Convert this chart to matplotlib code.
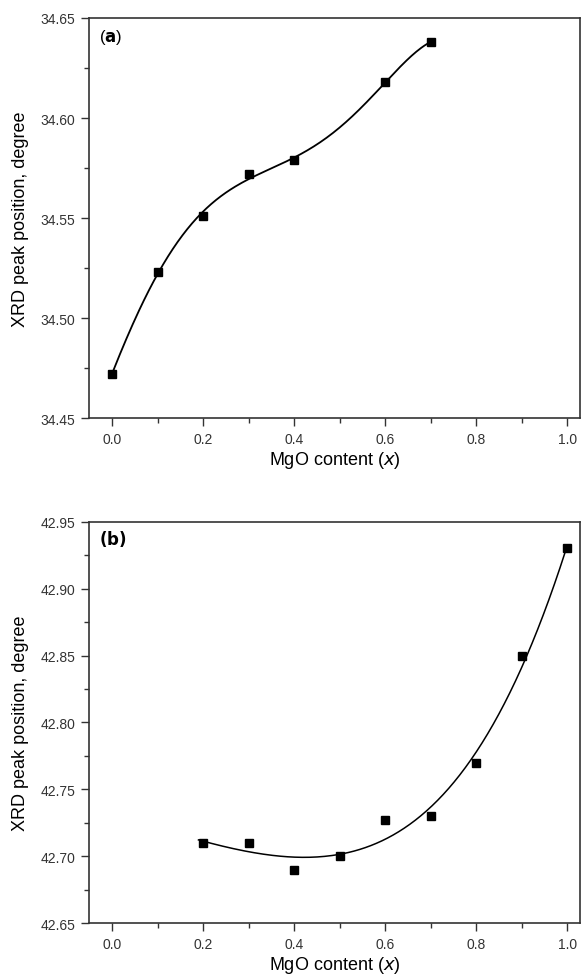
import matplotlib
matplotlib.use("Agg")
import matplotlib.pyplot as plt
import numpy as np
from matplotlib.ticker import MultipleLocator, FormatStrFormatter

plt.rcParams["font.family"] = ["Liberation Sans", "DejaVu Sans"]

# panel (a)
x_a = [0.0, 0.1, 0.2, 0.3, 0.4, 0.6, 0.7]
y_a = [34.472, 34.523, 34.551, 34.572, 34.579, 34.618, 34.638]

# panel (b)
x_b = [0.2, 0.3, 0.4, 0.5, 0.6, 0.7, 0.8, 0.9, 1.0]
y_b = [42.710, 42.710, 42.690, 42.700, 42.727, 42.730, 42.770, 42.850, 42.930]


def style(ax, ylim, label, label_y):
    ax.set_xlim(-0.05, 1.028)
    ax.set_ylim(*ylim)
    ax.xaxis.set_major_locator(MultipleLocator(0.2))
    ax.xaxis.set_minor_locator(MultipleLocator(0.1))
    ax.yaxis.set_major_locator(MultipleLocator(0.05))
    ax.yaxis.set_minor_locator(MultipleLocator(0.025))
    ax.xaxis.set_major_formatter(FormatStrFormatter("%.1f"))
    ax.yaxis.set_major_formatter(FormatStrFormatter("%.2f"))
    ax.tick_params(which="both", direction="out", top=False, right=False,
                   labelsize=10, colors="#333333", labelcolor="#333333")
    ax.tick_params(which="major", length=6, width=1, pad=4)
    ax.tick_params(which="minor", length=3.5, width=1)
    for s in ax.spines.values():
        s.set_color("#333333")
        s.set_linewidth(1.2)
    ax.set_xlabel("MgO content ($\\mathit{x}$)", fontsize=13, labelpad=2)
    ax.set_ylabel("XRD peak position, degree", fontsize=13, labelpad=8)
    ax.text(0.02, label_y, label, transform=ax.transAxes, fontsize=12,
            va="center", ha="left")


fig = plt.figure(figsize=(5.83, 9.79), dpi=100)
ax1 = fig.add_axes([0.153, 0.5717, 0.842, 0.4089])
ax2 = fig.add_axes([0.153, 0.0559, 0.842, 0.4102])

coef_a = np.polyfit(x_a, y_a, 5)
xs = np.linspace(min(x_a), max(x_a), 200)
ax1.plot(xs, np.polyval(coef_a, xs), color="black", lw=1.3)
ax1.plot(x_a, y_a, "s", color="black", ms=6)
style(ax1, (34.45, 34.65), "($\\mathbf{a}$)", 0.955)

coef_b = np.polyfit(x_b, y_b, 4)
xs = np.linspace(0.19, 1.0, 200)
ax2.plot(xs, np.polyval(coef_b, xs), color="black", lw=1.1)
ax2.plot(x_b, y_b, "s", color="black", ms=6)
style(ax2, (42.65, 42.95), "$\\mathbf{(b)}$", 0.96)

fig.savefig("out.png", dpi=100)
